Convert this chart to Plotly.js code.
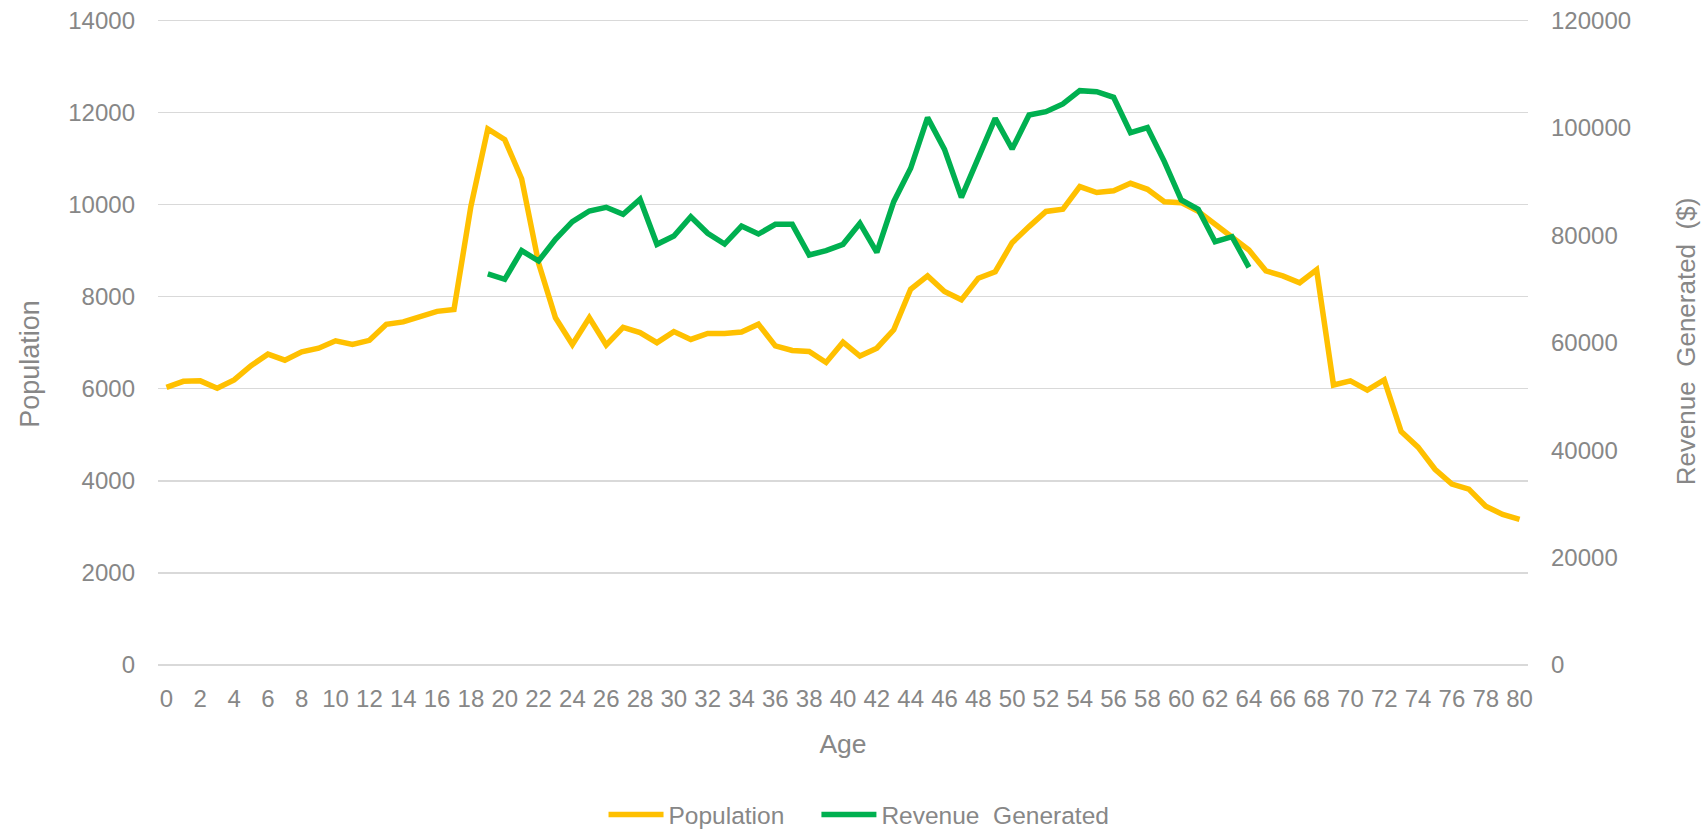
<!DOCTYPE html>
<html>
<head>
<meta charset="utf-8">
<script src="https://cdn.plot.ly/plotly-3.0.1.min.js"></script>
<style>html,body{margin:0;padding:0;background:#fff;}#chart{width:1701px;height:831px;}</style>
</head>
<body>
<div id="chart"></div>
<script>
const ages = [0,1,2,3,4,5,6,7,8,9,10,11,12,13,14,15,16,17,18,19,20,21,22,23,24,25,26,27,28,29,30,31,32,33,34,35,36,37,38,39,40,41,42,43,44,45,46,47,48,49,50,51,52,53,54,55,56,57,58,59,60,61,62,63,64,65,66,67,68,69,70,71,72,73,74,75,76,77,78,79,80];
const population = [6030,6160,6170,6010,6190,6500,6750,6620,6800,6880,7040,6960,7050,7400,7450,7570,7680,7720,9960,11640,11410,10560,8730,7540,6960,7540,6950,7330,7220,7000,7240,7070,7200,7200,7230,7400,6930,6830,6810,6570,7010,6710,6880,7280,8160,8450,8110,7930,8400,8540,9170,9520,9850,9900,10390,10260,10300,10460,10330,10060,10040,9850,9560,9290,9010,8560,8450,8300,8580,6080,6170,5970,6190,5070,4730,4250,3930,3820,3450,3270,3160];
const revenueAges = [19,20,21,22,23,24,25,26,27,28,29,30,31,32,33,34,35,36,37,38,39,40,41,42,43,44,45,46,47,48,49,50,51,52,53,54,55,56,57,58,59,60,61,62,63,64];
const revenue = [72780,71790,77120,75200,79240,82520,84510,85190,83890,86680,78300,79850,83450,80350,78360,81710,80220,82020,82020,76320,77120,78300,82210,76810,86240,92450,101880,95980,87050,94620,101760,96050,102380,102990,104430,106900,106720,105660,99090,100020,93690,86550,84820,78800,79730,74020];
const xTickVals = [0,2,4,6,8,10,12,14,16,18,20,22,24,26,28,30,32,34,36,38,40,42,44,46,48,50,52,54,56,58,60,62,64,66,68,70,72,74,76,78,80];
const xTickText = xTickVals.map(String);
const popTicks = [0,2000,4000,6000,8000,10000,12000,14000];
const revTicks = [0,20000,40000,60000,80000,100000,120000];

const FONT = 'Liberation Sans, Arial, sans-serif';
const GREY = '#878787';
const GRID = '#D9D9D9';
const NB = '\u00a0';

const traces = [
  {x: ages, y: population, type: 'scatter', mode: 'lines', name: 'Population',
   line: {color: '#FFC000', width: 5.5}, yaxis: 'y', legend: 'legend'},
  {x: revenueAges, y: revenue, type: 'scatter', mode: 'lines', name: 'Revenue' + NB + ' Generated',
   line: {color: '#00B050', width: 5.5}, yaxis: 'y2', legend: 'legend2'}
];

const legendStyle = {orientation: 'h', yanchor: 'middle', y: -0.231, xanchor: 'left',
                     font: {family: FONT, size: 24.5, color: GREY}, itemwidth: 55,
                     bgcolor: 'rgba(0,0,0,0)'};

const layout = {
  width: 1701, height: 831,
  margin: {l: 158, r: 173, t: 18, b: 166, autoexpand: false},
  paper_bgcolor: '#ffffff', plot_bgcolor: '#ffffff',
  font: {family: FONT, size: 24, color: GREY},
  showlegend: true,
  legend: Object.assign({}, legendStyle, {x: 0.3252}),
  legend2: Object.assign({}, legendStyle, {x: 0.4806}),
  xaxis: {range: [-0.5, 80.5], tickmode: 'array', tickvals: xTickVals, ticktext: xTickText,
          showgrid: false, zeroline: false, showline: false, ticks: '',
          ticklabelstandoff: 17,
          tickfont: {family: FONT, size: 24, color: GREY},
          title: {text: 'Age', font: {family: FONT, size: 26.5, color: GREY}, standoff: 23}},
  yaxis: {range: [0, 14050], tickmode: 'array', tickvals: popTicks, ticktext: popTicks.map(String),
          showgrid: true, gridcolor: GRID, gridwidth: 1.5, zeroline: true, zerolinecolor: GRID, zerolinewidth: 1.5,
          showline: false, ticks: '', ticklabelstandoff: 22,
          tickfont: {family: FONT, size: 24, color: GREY},
          title: {text: 'Population' + NB.repeat(6) + '\u200b', font: {family: FONT, size: 27, color: GREY}, standoff: 20}},
  yaxis2: {range: [0, 120428.6], overlaying: 'y', side: 'right', tickmode: 'array', tickvals: revTicks,
           ticktext: revTicks.map(String), showgrid: false, zeroline: false, showline: false, ticks: '',
           ticklabelstandoff: 22,
           tickfont: {family: FONT, size: 24, color: GREY},
           title: {text: 'Revenue' + NB + ' Generated' + NB + ' ($)', font: {family: FONT, size: 26, color: GREY}, standoff: 50}}
};

Plotly.newPlot('chart', traces, layout, {staticPlot: true, displayModeBar: false});
</script>
</body>
</html>
